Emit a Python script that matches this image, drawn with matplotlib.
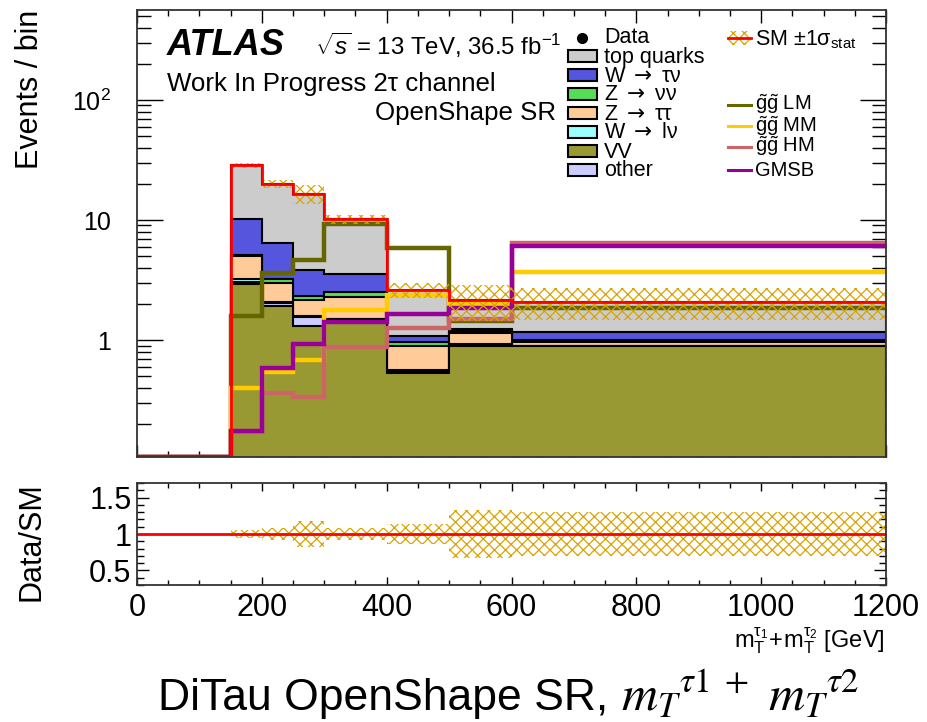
import numpy as np
import matplotlib
matplotlib.use('Agg')
import matplotlib.pyplot as plt
from matplotlib.patches import Rectangle
from matplotlib.lines import Line2D
from matplotlib.ticker import MultipleLocator, FixedLocator, FixedFormatter, LogLocator, NullFormatter

plt.rcParams['font.family'] = ['Liberation Sans', 'DejaVu Sans']
plt.rcParams['mathtext.fontset'] = 'custom'
plt.rcParams['mathtext.rm'] = 'Liberation Sans'
plt.rcParams['mathtext.it'] = 'Liberation Sans:italic'
plt.rcParams['mathtext.bf'] = 'Liberation Sans:bold'
plt.rcParams['mathtext.sf'] = 'DejaVu Sans'
plt.rcParams['hatch.linewidth'] = 0.9

# binning in mT(tau1) + mT(tau2) [GeV]
edges = np.array([0, 150, 200, 250, 300, 400, 500, 600, 1200])

# background yields per bin (stacked bottom -> top)
vv      = [0, 2.95, 1.93, 1.30, 1.40, 0.535, 0.90, 0.89]
other   = [0, 0.12, 0.09, 0.26, 0.10, 0.020, 0.01, 0.005]
wlnu    = [0, 0.13, 0.05, 0.02, 0.01, 0.005, 0.01, 0.005]
ztautau = [0, 1.80, 0.90, 0.57, 0.79, 0.33, 0.23, 0.07]
znunu   = [0, 0.10, 0.28, 0.17, 0.22, 0.08, 0.03, 0.03]
wtaunu  = [0, 5.00, 3.15, 1.51, 1.03, 0.11, 0.06, 0.17]
top     = [0, 18.4, 13.6, 12.7, 6.55, 1.52, 0.91, 0.91]

# relative stat. uncertainty on SM total (bins above 150 GeV)
stat_rel = [0.05, 0.08, 0.18, 0.08, 0.14, 0.33, 0.30]

# signal points
sig_lm   = [0, 1.60, 3.60, 4.60, 9.30, 5.90, 1.45, 1.84]
sig_mm   = [0, 0.40, 0.54, 0.68, 1.78, 2.35, 1.98, 3.70]
sig_hm   = [0, 0.17, 0.364, 0.337, 0.88, 1.27, 1.50, 6.45]
sig_gmsb = [0, 0.175, 0.58, 0.93, 1.42, 1.65, 1.84, 6.10]

stack = [vv, other, wlnu, ztautau, znunu, wtaunu, top]
stack_colors = ['#999933', '#ccccff', '#99ffff', '#ffcc99', '#55dd55', '#5555dd', '#cccccc']
signals = [sig_lm, sig_mm, sig_hm, sig_gmsb]
sig_colors = ['#666600', '#ffcc00', '#cc6666', '#990099']

ymin, ymax = 0.106, 562

W, H = 927, 722
def fx(x):
    return x / W
def fy(y):
    return 1 - y / H

fig = plt.figure(figsize=(9.27, 7.22), dpi=100)
ax = fig.add_axes([fx(137), fy(457), 749 / W, 447 / H])
rax = fig.add_axes([fx(137), fy(585), 749 / W, 102 / H])

cum = np.cumsum(np.array(stack), axis=0)
total = cum[-1]
rel = np.array(stat_rel)
widths = np.diff(edges)[1:]

# stacked backgrounds, drawn from the top layer down
for i in reversed(range(len(stack))):
    ax.stairs(cum[i][1:], edges[1:], baseline=ymin, fill=True,
              facecolor=stack_colors[i], edgecolor='black', linewidth=1.5, zorder=2)

for vals, c in zip(signals, sig_colors):
    ax.stairs(np.maximum(vals, ymin), edges, baseline=None, color=c, linewidth=3.2, zorder=3)

ax.bar(edges[1:-1], 2 * rel * total[1:], width=widths, bottom=total[1:] * (1 - rel),
       align='edge', facecolor='none', edgecolor='#d9a400', hatch='xxx', linewidth=0, zorder=4)
ax.stairs(np.maximum(total, ymin), edges, baseline=None, color='red', linewidth=2, zorder=5)

ax.set_yscale('log')
ax.set_xlim(0, 1200)
ax.set_ylim(ymin, ymax)
ax.xaxis.set_major_locator(MultipleLocator(200))
ax.xaxis.set_minor_locator(MultipleLocator(50))
ax.yaxis.set_major_locator(FixedLocator([1, 10, 100]))
ax.yaxis.set_major_formatter(FixedFormatter(['1', '10', r'$10^{2}$']))
ax.yaxis.set_minor_locator(LogLocator(base=10, subs=np.arange(2, 10)))
ax.yaxis.set_minor_formatter(NullFormatter())
ax.tick_params(which='both', direction='in', top=True, right=True, width=1)
ax.tick_params(axis='y', which='major', length=19, labelsize=18, pad=19)
ax.tick_params(axis='y', which='minor', length=10)
ax.tick_params(axis='x', which='major', length=9, labelbottom=False)
ax.tick_params(axis='x', which='minor', length=4.5)

# ratio panel
rax.bar(edges[1:-1], 2 * rel, width=widths, bottom=1 - rel, align='edge',
        facecolor='none', edgecolor='#d9a400', hatch='xxx', linewidth=0, zorder=2)
rax.axhline(1, color='red', linewidth=2, zorder=3)
rax.set_xlim(0, 1200)
rax.set_ylim(0.3, 1.7)
rax.xaxis.set_major_locator(MultipleLocator(200))
rax.xaxis.set_minor_locator(MultipleLocator(50))
rax.yaxis.set_major_locator(FixedLocator([0.5, 1.0, 1.5]))
rax.yaxis.set_major_formatter(FixedFormatter(['0.5', '1', '1.5']))
rax.yaxis.set_minor_locator(MultipleLocator(0.1))
rax.tick_params(which='both', direction='in', top=True, right=True, width=1)
rax.tick_params(axis='x', which='major', length=6, labelsize=22, pad=6)
rax.tick_params(axis='x', which='minor', length=3.5)
rax.tick_params(axis='y', which='major', length=8.5, labelsize=22, pad=4)
rax.tick_params(axis='y', which='minor', length=5)

for a in (ax, rax):
    for s in a.spines.values():
        s.set_linewidth(1.3)
        s.set_color('#333333')
        s.set_zorder(6)

# axis titles
fig.text(fx(30), fy(10), 'Events / bin', rotation=90, ha='center', va='top', fontsize=22)
fig.text(fx(31), fy(542), 'Data/SM', rotation=90, ha='center', va='center', fontsize=22)
fig.text(fx(885), fy(647), r'$\mathregular{m_{T}^{\tau_{1}}\!+\!m_{T}^{\tau_{2}}}$ [GeV]',
         ha='right', va='baseline', fontsize=17)

# labels
fig.text(fx(167), fy(55), 'ATLAS', fontsize=26, fontweight='bold', fontstyle='italic')
fig.text(fx(315), fy(55), r'$\sqrt{s}$ = 13 TeV, 36.5 fb$^{-1}$', fontsize=17.3)
fig.text(fx(167), fy(91), 'Work In Progress 2τ channel', fontsize=18.6)
fig.text(fx(375), fy(120), 'OpenShape SR', fontsize=18.6)

# legend, left column
leg_fs = 15.5
fig.add_artist(Line2D([fx(582)], [fy(38)], marker='o', markersize=7, color='black',
                      transform=fig.transFigure))
fig.text(fx(604), fy(43), 'Data', fontsize=leg_fs, va='baseline')
arrow = r'$\mathsf{\rightarrow}$'
box_labels = ['top quarks', 'W ' + arrow + ' τν', 'Z ' + arrow + ' νν', 'Z ' + arrow + ' ττ',
              'W ' + arrow + ' lν', 'VV', 'other']
box_colors = ['#cccccc', '#5555dd', '#55dd55', '#ffcc99', '#99ffff', '#999933', '#ccccff']
rows = [56, 75, 94, 113, 132, 151, 170]
for lab, c, yc in zip(box_labels, box_colors, rows):
    fig.add_artist(Rectangle((fx(568), fy(yc + 6)), 29 / W, 12 / H, facecolor=c,
                             edgecolor='black', linewidth=1.5, transform=fig.transFigure))
    fig.text(fx(604), fy(yc + 6.5), lab, fontsize=leg_fs, va='baseline')

# legend, right column
fig.add_artist(Rectangle((fx(728), fy(45)), 23 / W, 14 / H, facecolor='none',
                         edgecolor='#d9a400', hatch='xxx', linewidth=0, transform=fig.transFigure))
fig.add_artist(Line2D([fx(728), fx(751)], [fy(38), fy(38)], color='red', linewidth=2,
                      transform=fig.transFigure))
fig.text(fx(755), fy(45), r'SM ±1σ$_{\mathregular{stat}}$', fontsize=leg_fs, va='baseline')
sig_labels = [r'$\mathregular{\tilde{g}\tilde{g}}$ LM', r'$\mathregular{\tilde{g}\tilde{g}}$ MM',
              r'$\mathregular{\tilde{g}\tilde{g}}$ HM', 'GMSB']
sig_rows = [105, 126, 147, 170]
for lab, c, yc in zip(sig_labels, sig_colors, sig_rows):
    fig.add_artist(Line2D([fx(728), fx(751)], [fy(yc), fy(yc)], color=c, linewidth=2.2,
                          transform=fig.transFigure))
    fig.text(fx(755), fy(yc + 5.5), lab, fontsize=14.5, va='baseline')

# slide title
fig.text(fx(158), fy(710), 'DiTau OpenShape SR,', fontsize=32, va='baseline')
fig.text(fx(621), fy(710), r'$m_T{}^{\tau 1\ +}\ m_T{}^{\tau 2}$',
         fontsize=36, va='baseline', math_fontfamily='stix')

fig.savefig('out.png', dpi=100)
